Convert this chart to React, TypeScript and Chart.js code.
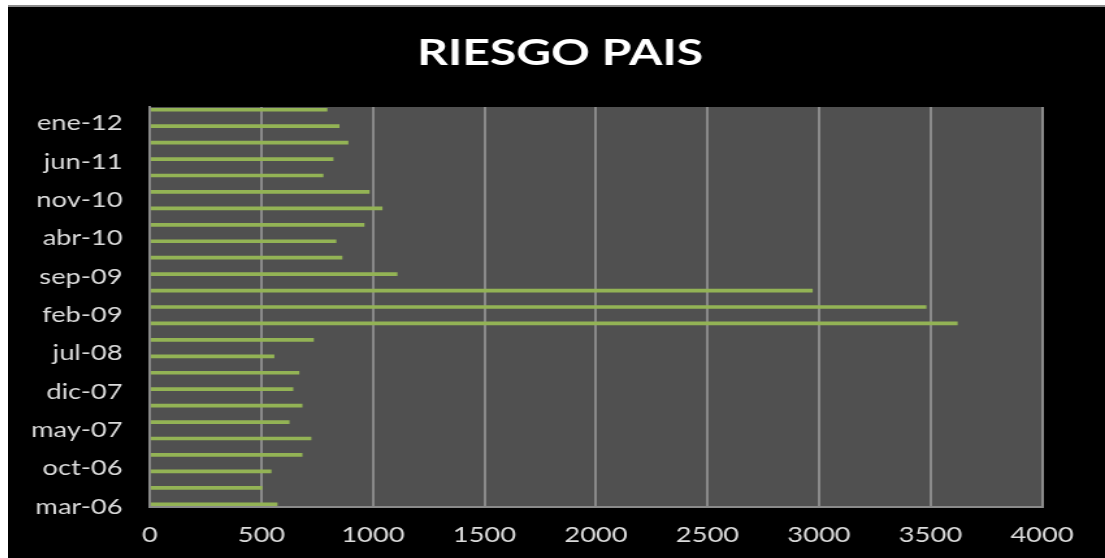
import React, { useEffect, useRef } from "react";
import { Chart, registerables } from "chart.js";

Chart.register(...registerables);

// Quarterly country-risk readings (basis points)
const quarters = [
  "mar-06", "jun-06", "sep-06", "dic-06",
  "mar-07", "jun-07", "sep-07", "dic-07",
  "mar-08", "jun-08", "sep-08", "dic-08",
  "mar-09", "jun-09", "sep-09", "dic-09",
  "mar-10", "jun-10", "sep-10", "dic-10",
  "mar-11", "jun-11", "sep-11", "dic-11",
  "mar-12",
];
const riesgo = [
  570, 502, 543, 682,
  722, 624, 682, 641,
  668, 556, 733, 3620,
  3480, 2970, 1108, 861,
  834, 960, 1041, 983,
  776, 821, 888, 848,
  794,
];

// Date axis labels, one every seven months starting at mar-06
const yTickLabels = [
  "mar-06", "oct-06", "may-07", "dic-07", "jul-08", "feb-09",
  "sep-09", "abr-10", "nov-10", "jun-11", "ene-12",
];
const xTicks = [0, 500, 1000, 1500, 2000, 2500, 3000, 3500, 4000];

const MONTHS = ["ene", "feb", "mar", "abr", "may", "jun", "jul", "ago", "sep", "oct", "nov", "dic"];
const START_YEAR = 2006;
const START_MONTH = 2; // march

// months elapsed since mar-06
function monthIndex(label: string): number {
  const [m, y] = label.split("-");
  const year = 2000 + parseInt(y, 10);
  return (year - START_YEAR) * 12 + MONTHS.indexOf(m) - START_MONTH;
}

const AXIS_MAX = monthIndex("abr-12");
const TICK_STEP = monthIndex(yTickLabels[1]) - monthIndex(yTickLabels[0]);

// drawn canvas is stretched horizontally by this factor
const CANVAS_W = 844;
const CANVAS_H = 551;
const STRETCH = 1097 / CANVAS_W;

const plotBackground = {
  id: "plotBackground",
  beforeDraw(chart: any) {
    const { ctx, chartArea } = chart;
    ctx.save();
    ctx.fillStyle = "#505050";
    ctx.fillRect(chartArea.left, chartArea.top, chartArea.width, chartArea.height);
    ctx.restore();
  },
};

export default function App() {
  const canvasRef = useRef<HTMLCanvasElement | null>(null);

  useEffect(() => {
    if (!canvasRef.current) return;
    const chart = new Chart(canvasRef.current, {
      type: "bar",
      data: {
        datasets: [
          {
            label: "Riesgo país",
            data: quarters.map((q, i) => ({ x: riesgo[i], y: monthIndex(q) + 0.5 })),
            backgroundColor: "#93b355",
            borderWidth: 0,
            barThickness: 3,
            yAxisID: "y",
          },
        ],
      },
      options: {
        animation: false,
        responsive: false,
        devicePixelRatio: 1,
        indexAxis: "y",
        layout: { padding: { left: 5.4, right: 0, top: 0, bottom: 0 } },
        plugins: {
          legend: { display: false },
          tooltip: { enabled: false },
          title: {
            display: true,
            text: "RIESGO PAIS",
            color: "#ffffff",
            font: { family: "Lato", size: 37, weight: "bold", lineHeight: 1.2 },
            padding: { top: 24, bottom: 31.6 },
          },
        },
        scales: {
          x: {
            type: "linear",
            min: xTicks[0],
            max: xTicks[xTicks.length - 1],
            afterBuildTicks: (scale: any) => {
              scale.ticks = xTicks.map((v) => ({ value: v }));
            },
            afterFit: (scale: any) => {
              scale.height = 51;
            },
            grid: { color: "#8a8a8a", lineWidth: 2, drawTicks: false },
            border: { display: true, color: "#8a8a8a", width: 2 },
            ticks: {
              color: "#dcdcdc",
              font: { family: "Lato", size: 21 },
              padding: 16,
              maxRotation: 0,
              callback: (value: any) => String(value),
            },
          },
          y: {
            type: "linear",
            offset: false,
            min: 0,
            max: AXIS_MAX,
            afterBuildTicks: (scale: any) => {
              scale.ticks = yTickLabels.map((_, i) => ({ value: i * TICK_STEP }));
            },
            afterFit: (scale: any) => {
              scale.width = 103.8;
            },
            grid: { display: false, drawTicks: false },
            border: { display: true, color: "#8a8a8a", width: 2 },
            ticks: {
              color: "#dcdcdc",
              font: { family: "Lato", size: 21 },
              padding: 21,
              autoSkip: false,
              callback: (value: any) => yTickLabels[Math.round(Number(value) / TICK_STEP)] ?? "",
            },
          },
          // empty margin to the right of the plot
          yRight: {
            type: "linear",
            position: "right",
            afterFit: (scale: any) => {
              scale.width = 48.5;
            },
            grid: { display: false, drawTicks: false },
            border: { display: false },
            ticks: { display: false },
          },
        },
      },
      plugins: [plotBackground],
    });
    return () => chart.destroy();
  }, []);

  return (
    <div
      style={{
        position: "fixed",
        left: 8,
        top: 5,
        right: 0,
        bottom: 0,
        background: "#000",
        borderTop: "2px solid #8c8c8c",
        overflow: "hidden",
      }}
    >
      <canvas
        ref={canvasRef}
        width={CANVAS_W}
        height={CANVAS_H}
        style={{
          display: "block",
          width: CANVAS_W,
          height: CANVAS_H,
          transform: `scaleX(${STRETCH})`,
          transformOrigin: "0 0",
        }}
      />
    </div>
  );
}
